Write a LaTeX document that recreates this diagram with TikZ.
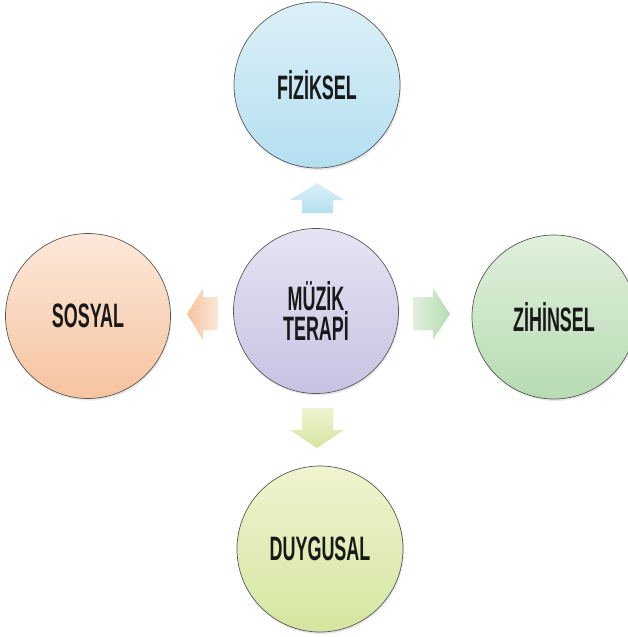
\documentclass[tikz,border=0pt]{standalone}
\usepackage{fontspec}
\setmainfont{Liberation Sans}[FakeStretch=0.53]
\usetikzlibrary{shadows}
\definecolor{blueT}{HTML}{DDF0F8}\definecolor{blueB}{HTML}{B3DFF0}
\definecolor{lavT}{HTML}{E6E4F3}\definecolor{lavB}{HTML}{C7C2E2}
\definecolor{peaT}{HTML}{FCE8DA}\definecolor{peaB}{HTML}{F6C39E}
\definecolor{grnT}{HTML}{E0F0DC}\definecolor{grnB}{HTML}{B7DBB2}
\definecolor{yelT}{HTML}{EFF4CF}\definecolor{yelB}{HTML}{D5E5A0}
\tikzset{
  bubble/.style={circle, draw=black!65, line width=0.7bp, minimum size=166bp, inner sep=0pt,
    font=\bfseries\fontsize{34}{31}\selectfont, align=center, text=black!90,
    drop shadow={opacity=0.18, shadow xshift=1bp, shadow yshift=-2bp}},
  blockarrow/.style={draw=none}
}
\begin{document}
\begin{tikzpicture}[x=1bp,y=-1bp]
\useasboundingbox (0,0) rectangle (628,637);
\fill[white] (0,0) rectangle (628,637);
\node[bubble, top color=blueT, bottom color=blueB] (fiz) at (317,85) {F\.IZ\.IKSEL};
\node[bubble, top color=lavT, bottom color=lavB, minimum size=165bp] (mt) at (316,311) {M\"UZ\.IK\\TERAP\.I};
\node[bubble, top color=peaT, bottom color=peaB, minimum size=165bp] (sos) at (88,316) {SOSYAL};
\node[bubble, top color=grnT, bottom color=grnB, minimum size=164bp] (zih) at (554,317) {Z\.IH\.INSEL};
\node[bubble, top color=yelT, bottom color=yelB] (duy) at (320,549) {DUYGUSAL};
% arrows
\path[blockarrow, top color=blueT, bottom color=blueB]
  (302,213) -- (302,200) -- (290,200) -- (317,183) -- (344,200) -- (333,200) -- (333,213) -- cycle;
\path[blockarrow, left color=peaB, right color=peaT]
  (218,297) -- (203,297) -- (203,288) -- (187,314) -- (203,340) -- (203,330) -- (218,330) -- cycle;
\path[blockarrow, left color=grnT, right color=grnB]
  (413,297) -- (433,297) -- (433,288) -- (450,314) -- (433,340) -- (433,330) -- (413,330) -- cycle;
\path[blockarrow, top color=yelT, bottom color=yelB]
  (302,408) -- (333,408) -- (333,430) -- (344,430) -- (317,448) -- (290,430) -- (302,430) -- cycle;
\end{tikzpicture}
\end{document}
